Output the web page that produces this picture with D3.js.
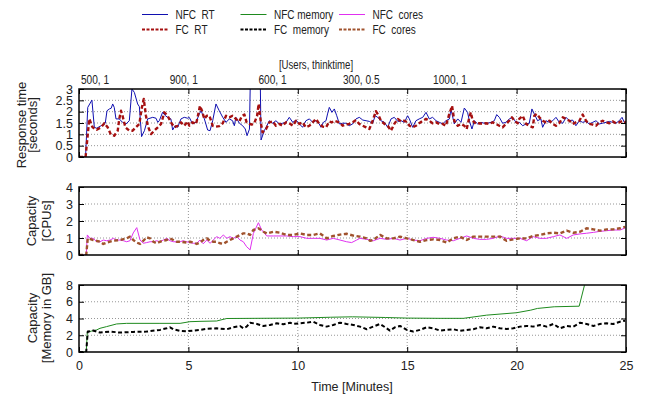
<!DOCTYPE html>
<html><head><meta charset="utf-8">
<script src="https://cdn.jsdelivr.net/npm/d3@7"></script>
<style>
body{margin:0;background:#fff;}
text{font-family:"Liberation Sans",Arial,sans-serif;fill:#222;}
</style></head>
<body>
<script>
// ---------- DATA ----------
const xTicks = [0, 5, 10, 15, 20, 25];
const rtTicks = [0, 0.5, 1, 1.5, 2, 2.5, 3];
const cpuTicks = [0, 1, 2, 3, 4];
const memTicks = [0, 2, 4, 6, 8];
const userLabels = ["500, 1", "900, 1", "600, 1", "300, 0.5", "1000, 1"];
const legendNames = ["NFC  RT", "FC  RT", "NFC memory", "FC  memory", "NFC  cores", "FC  cores"];

// [minute, seconds]
const nfcRT = [[0,0],[0.3,0],[0.4,2.19],[0.59,2.51],[0.70,1.31],[0.81,1.27],[1.01,1.38],[1.20,1.49],[1.28,2.04],[1.39,2.12],[1.47,2.15],[1.54,2.34],[1.61,2.19],[1.69,1.68],[1.84,1.68],[1.99,1.53],[2.15,1.46],[2.30,1.60],[2.42,3.0],[2.53,2.85],[2.68,2.34],[2.76,2.22],[2.86,0.90],[2.99,1.16],[3.14,1.68],[3.37,1.75],[3.52,1.71],[3.60,1.53],[3.67,1.60],[3.82,1.97],[3.95,1.82],[4.05,1.75],[4.20,1.68],[4.28,1.19],[4.39,1.38],[4.51,1.31],[4.66,1.68],[4.81,1.75],[4.97,1.71],
[5.04,1.75],[5.19,1.46],[5.35,1.53],[5.50,1.90],[5.58,2.04],[5.73,1.68],[5.88,1.19],[5.99,1.16],[6.11,1.60],[6.26,2.34],[6.41,2.04],[6.57,1.75],[6.72,1.53],[6.87,1.68],[7.02,1.60],[7.10,1.38],[7.17,1.75],[7.33,1.49],[7.48,1.38],[7.60,1.235],[7.68,0.94],[7.79,1.23],[7.88,6],[8.25,6],[8.32,0.75],[8.47,1.16],[8.55,1.31],[8.70,1.60],[8.85,1.49],[9.00,1.60],[9.16,1.46],[9.31,1.49],[9.46,1.53],[9.61,1.75],[9.77,1.53],[9.92,1.63],[10.07,1.46],
[10.22,1.31],[10.37,1.60],[10.53,1.68],[10.68,1.53],[10.83,1.60],[10.98,1.46],[11.06,1.31],[11.17,1.53],[11.29,1.60],[11.36,1.90],[11.44,2.19],[11.56,1.97],[11.67,2.12],[11.78,1.82],[11.90,1.46],[12.05,1.49],[12.20,1.49],[12.35,1.38],[12.51,1.46],[12.66,1.68],[12.81,1.75],[12.97,1.63],[13.12,1.60],[13.27,1.57],[13.42,1.49],[13.54,1.82],[13.65,1.75],[13.80,1.60],[13.96,1.53],[14.11,1.31],[14.26,1.68],[14.41,1.75],[14.57,1.57],[14.72,1.60],[14.87,1.53],[15.02,1.82],
[15.10,1.68],[15.25,1.31],[15.40,1.60],[15.55,1.68],[15.71,1.75],[15.86,1.97],[16.01,1.68],[16.16,1.75],[16.32,1.60],[16.47,1.53],[16.62,1.46],[16.77,1.60],[16.93,1.68],[17.00,2.12],[17.15,1.46],[17.31,1.68],[17.46,1.53],[17.61,2.16],[17.76,1.97],[17.84,1.60],[17.96,1.235],[18.07,1.60],[18.22,1.46],[18.37,1.53],[18.52,1.49],[18.68,1.49],[18.83,1.53],[18.98,1.60],[19.09,1.87],[19.21,1.75],[19.36,1.49],[19.51,1.53],[19.67,1.68],[19.82,1.75],[19.97,1.53],
[20.12,1.53],[20.28,1.38],[20.43,1.46],[20.58,1.49],[20.70,2.12],[20.81,1.90],[20.96,1.60],[21.11,1.68],[21.19,1.31],[21.34,1.60],[21.50,1.53],[21.65,1.60],[21.80,1.75],[21.95,1.53],[22.11,1.49],[22.26,1.75],[22.41,1.60],[22.56,1.63],[22.71,1.38],[22.87,1.60],[23.02,1.53],[23.17,1.57],[23.32,1.46],[23.48,1.53],[23.63,1.60],[23.78,1.46],[23.93,1.49],[24.09,1.53],[24.24,1.57],[24.39,1.53],[24.54,1.49],[24.69,1.60],[24.82,1.75],[24.92,1.53],[25.0,1.5]];

const fcRT = [[0,0],[0.3,0],[0.47,1.68],[0.62,1.31],[0.81,1.2],[1.01,1.31],[1.16,1.49],[1.31,1.31],[1.46,0.98],[1.61,0.94],[1.77,1.16],[1.84,1.68],[1.92,2.04],[1.99,1.82],[2.12,1.31],[2.30,1.16],[2.45,1.16],[2.60,1.31],[2.76,1.46],[2.86,2.12],[2.96,2.56],[3.06,1.82],[3.14,1.38],[3.29,1.01],[3.44,1.16],[3.60,1.31],[3.75,1.46],[3.90,1.97],[4.05,1.82],[4.20,1.53],[4.36,1.31],[4.51,1.38],[4.66,1.53],[4.81,1.38],[4.97,1.57],
[5.04,1.38],[5.19,1.53],[5.35,1.46],[5.42,1.75],[5.53,2.26],[5.62,2.04],[5.73,1.68],[5.84,1.82],[5.96,1.82],[6.11,1.38],[6.26,1.34],[6.41,1.36],[6.57,1.49],[6.72,1.82],[6.87,1.75],[7.02,1.82],[7.17,1.68],[7.33,1.57],[7.45,1.82],[7.56,1.87],[7.66,1.53],[7.79,1.46],[7.89,1.43],[8.01,1.49],[8.14,1.82],[8.21,2.34],[8.32,1.46],[8.39,1.09],[8.55,1.235],[8.70,1.53],[8.85,1.57],[9.00,1.38],[9.16,1.46],[9.31,1.38],[9.46,1.53],[9.61,1.49],[9.77,1.38],[9.92,1.60],[10.07,1.46],
[10.22,1.53],[10.37,1.31],[10.53,1.38],[10.68,1.53],[10.83,1.68],[10.98,1.46],[11.14,1.34],[11.29,1.31],[11.44,1.57],[11.56,1.53],[11.67,1.60],[11.90,1.53],[12.05,1.38],[12.20,1.43],[12.35,1.46],[12.51,1.53],[12.66,1.63],[12.81,1.46],[12.97,1.38],[13.12,1.31],[13.27,1.235],[13.42,1.60],[13.57,2.02],[13.70,1.82],[13.80,1.60],[13.96,1.46],[14.11,1.38],[14.26,1.16],[14.41,1.46],[14.57,1.68],[14.72,1.57],[14.87,1.60],[15.02,1.53],
[15.10,1.38],[15.25,1.31],[15.40,1.38],[15.55,1.49],[15.71,1.60],[15.86,1.68],[16.01,1.60],[16.16,1.49],[16.32,1.53],[16.47,1.46],[16.62,1.46],[16.77,1.38],[16.90,1.82],[17.05,2.26],[17.15,1.60],[17.31,1.38],[17.46,1.46],[17.61,1.38],[17.72,1.235],[17.84,1.75],[17.91,1.97],[17.99,1.60],[18.14,1.46],[18.30,1.49],[18.45,1.46],[18.60,1.49],[18.75,1.46],[18.91,1.53],[19.06,1.46],[19.21,1.38],[19.36,1.31],[19.51,1.46],[19.67,1.60],[19.79,1.75],[19.90,1.60],[20.05,1.49],
[20.12,1.68],[20.28,1.82],[20.43,1.46],[20.58,1.38],[20.74,1.31],[20.81,1.82],[20.92,1.90],[21.04,1.75],[21.19,1.60],[21.34,1.53],[21.50,1.60],[21.65,1.46],[21.80,1.38],[21.95,1.49],[22.11,1.75],[22.26,1.68],[22.41,1.60],[22.56,1.46],[22.71,1.53],[22.87,1.60],[23.02,1.87],[23.17,1.60],[23.32,1.46],[23.48,1.43],[23.63,1.38],[23.78,1.53],[23.93,1.60],[24.09,1.53],[24.24,1.49],[24.39,1.57],[24.54,1.49],[24.69,1.53],[24.85,1.60],[25.0,1.53]];

// [minute, CPUs]
const nfcCores = [[0,0],[0.33,0],[0.38,1.18],[0.50,0.98],[0.65,0.98],[0.81,0.78],[0.96,0.78],[1.11,0.88],[1.26,0.84],[1.42,0.88],[1.57,0.98],[1.72,0.88],[1.87,0.88],[2.03,0.84],[2.18,0.78],[2.33,0.84],[2.48,1.30],[2.64,1.61],[2.79,0.88],[2.94,0.69],[3.09,0.73],[3.25,0.78],[3.40,0.78],[3.55,0.84],[3.70,0.78],[3.85,0.88],[4.01,0.98],[4.16,0.84],[4.31,0.78],[4.46,0.78],[4.62,0.78],[4.77,0.84],[4.92,0.78],[5.07,0.73],[5.23,0.69],[5.38,0.69],[5.53,0.88],[5.68,0.66],[5.84,0.88],[5.99,0.69],[6.14,0.88],[6.29,1.08],[6.44,0.98],[6.60,1.18],[6.75,0.98],[6.90,1.08],[7.05,0.98],[7.21,1.08],[7.36,0.88],[7.51,0.78],[7.66,0.49],[7.82,0.30],[7.97,1.27],[8.20,1.90],[8.35,1.47],[8.58,1.12],[8.88,1.12],[9.19,1.12],[9.49,1.12],[9.80,1.08],[10.10,1.08],[10.41,0.98],[10.71,0.98],[11.01,0.98],[11.32,0.88],[11.62,0.98],[11.93,0.88],[12.23,0.78],[12.46,0.73],[12.69,0.88],[12.84,0.98],[13.15,0.92],[13.45,0.84],[13.76,0.98],[14.06,0.92],[14.37,0.98],[14.67,0.88],[14.98,0.98],[15.28,0.88],[15.58,0.84],[15.89,0.98],[16.19,1.04],[16.50,0.98],[16.80,0.88],[17.11,0.84],[17.41,0.98],[17.72,1.12],[18.02,0.98],[18.32,0.92],[18.63,0.92],[18.93,0.98],[19.24,1.12],[19.54,0.98],[19.85,0.98],[20.15,0.98],[20.46,0.84],[20.76,1.08],[21.07,0.98],[21.37,0.98],[21.68,1.08],[21.98,1.18],[22.29,0.98],[22.59,1.18],[22.90,1.24],[23.20,1.28],[23.51,1.33],[23.81,1.39],[24.12,1.43],[24.42,1.47],[24.73,1.47],[24.96,1.59]];

const fcCores = [[0,0],[0.33,0],[0.40,0.98],[0.65,0.88],[0.96,0.78],[1.11,0.65],[1.26,0.73],[1.57,0.84],[1.87,0.88],[2.18,0.98],[2.33,1.08],[2.48,0.88],[2.64,0.73],[2.79,0.65],[2.94,0.84],[3.09,1.04],[3.25,0.98],[3.40,0.78],[3.55,0.69],[3.70,0.78],[3.85,0.84],[4.01,0.88],[4.16,0.98],[4.31,0.88],[4.46,0.78],[4.62,0.78],[4.92,0.73],[5.07,0.78],[5.23,0.73],[5.38,0.65],[5.53,0.73],[5.68,0.88],[5.84,0.98],[5.99,0.84],[6.14,0.78],[6.29,0.78],[6.44,0.69],[6.60,0.65],[6.75,0.78],[6.90,0.88],[7.05,0.98],[7.21,1.08],[7.36,1.18],[7.51,1.27],[7.66,1.27],[7.82,1.18],[7.97,1.47],[8.20,1.57],[8.43,1.37],[8.58,1.27],[8.88,1.37],[9.19,1.31],[9.49,1.18],[9.80,1.18],[10.10,1.27],[10.41,1.18],[10.71,1.18],[11.01,1.27],[11.32,0.98],[11.62,1.12],[11.93,1.20],[12.23,1.25],[12.54,1.14],[12.84,1.08],[13.15,0.98],[13.30,0.84],[13.45,0.88],[13.76,1.18],[14.06,0.98],[14.37,0.98],[14.67,1.08],[14.98,0.98],[15.28,0.88],[15.58,0.78],[15.89,0.88],[16.19,0.92],[16.50,0.88],[16.80,0.73],[17.11,0.98],[17.41,1.08],[17.72,0.88],[18.02,1.08],[18.32,1.08],[18.63,1.08],[18.93,1.08],[19.24,1.08],[19.54,0.84],[19.85,0.92],[20.15,0.98],[20.46,0.98],[20.76,1.12],[21.07,1.18],[21.37,1.27],[21.68,1.31],[21.98,1.27],[22.29,1.43],[22.59,1.31],[22.90,1.37],[23.20,1.57],[23.51,1.51],[23.81,1.43],[24.12,1.51],[24.42,1.51],[24.73,1.57],[24.96,1.65]];

// [minute, GB]
const nfcMem = [[0,0],[0.33,0],[0.38,2.36],[0.57,2.50],[0.81,2.64],[0.96,2.83],[1.26,3.03],[1.72,3.35],[2.18,3.42],[3.70,3.42],[4.62,3.42],[5.07,3.62],[5.53,3.66],[6.29,3.70],[6.75,4.00],[8.0,4.02],[10.0,4.05],[11.5,4.15],[12.5,4.20],[14.0,4.12],[15.0,4.05],[16.5,4.02],[17.57,4.02],[18.63,4.40],[20.0,4.69],[20.65,5.00],[20.95,5.20],[21.72,5.40],[22.86,5.47],[23.10,7.95],[23.30,8.60]];

const fcMem = [[0,0],[0.33,0],[0.40,2.44],[0.65,2.56],[0.96,2.32],[1.42,2.44],[1.87,2.32],[2.48,2.40],[3.09,2.44],[3.70,2.64],[4.01,2.83],[4.16,2.95],[4.31,2.72],[4.62,2.52],[4.92,2.48],[5.53,2.64],[5.84,2.76],[6.29,2.83],[6.75,2.72],[7.05,2.95],[7.36,3.10],[7.51,2.83],[7.66,3.03],[7.82,3.50],[8.13,3.35],[8.43,3.11],[8.73,3.23],[9.04,3.43],[9.34,3.31],[9.65,3.50],[9.80,3.35],[10.10,3.43],[10.41,3.50],[10.71,3.62],[11.01,3.23],[11.32,3.03],[11.62,3.23],[11.93,3.50],[12.23,3.35],[12.54,3.23],[12.84,3.03],[13.15,2.72],[13.45,3.03],[13.76,3.35],[14.06,2.83],[14.21,2.56],[14.44,2.95],[14.67,3.11],[14.98,2.64],[15.28,2.44],[15.58,2.64],[15.89,2.95],[16.19,2.83],[16.50,2.56],[16.80,2.64],[17.11,2.72],[17.41,2.52],[17.72,2.64],[18.02,2.72],[18.32,2.95],[18.63,2.83],[18.93,3.03],[19.24,2.83],[19.54,2.76],[19.85,2.83],[20.15,3.03],[20.46,3.11],[20.76,3.03],[21.07,3.23],[21.37,3.03],[21.68,3.35],[21.98,2.83],[22.29,3.11],[22.59,3.03],[22.90,3.50],[23.20,3.35],[23.51,3.11],[23.81,3.35],[24.12,3.43],[24.42,3.35],[24.73,3.62],[24.96,3.74]];

// ---------- DRAW ----------
const W = 647, H = 395;
const svg = d3.select("body").append("svg").attr("width", W).attr("height", H);
const x = d3.scaleLinear().domain([0, 25]).range([79, 626]);

const colors = {nfcRT:"#1010b0", fcRT:"#a51010", nfcMem:"#1e8a1e", fcMem:"#000000", nfcCores:"#e030f0", fcCores:"#a0522d"};

const panels = [
  {top:89, bottom:157, domain:[0,3], ticks:rtTicks, title:["Response time","[seconds]"], tx:[21,32], ty:125,
   series:[{d:nfcRT,c:colors.nfcRT,w:1,dash:null},{d:fcRT,c:colors.fcRT,w:2.4,dash:"4,2.5"}]},
  {top:187, bottom:255, domain:[0,4], ticks:cpuTicks, title:["Capacity","[CPUs]"], tx:[31,46], ty:221,
   series:[{d:nfcCores,c:colors.nfcCores,w:1,dash:null},{d:fcCores,c:colors.fcCores,w:2.4,dash:"4,2.5"}]},
  {top:285, bottom:352, domain:[0,8], ticks:memTicks, title:["Capacity","[Memory in GB]"], tx:[32,46], ty:318,
   series:[{d:nfcMem,c:colors.nfcMem,w:1,dash:null},{d:fcMem,c:colors.fcMem,w:2,dash:"4,2.5"}]}
];

panels.forEach((p, i) => {
  const y = d3.scaleLinear().domain(p.domain).range([p.bottom, p.top]);
  const g = svg.append("g");
  const clipId = "clip" + i;
  svg.append("clipPath").attr("id", clipId).append("rect")
    .attr("x", x(0)).attr("y", p.top).attr("width", x(25) - x(0)).attr("height", p.bottom - p.top);

  // grid
  g.selectAll(".hg").data(p.ticks.slice(1, -1)).join("line")
    .attr("x1", x(0)).attr("x2", x(25)).attr("y1", d => y(d)).attr("y2", d => y(d))
    .attr("stroke", "#8a8a8a").attr("stroke-width", 0.9).attr("stroke-dasharray", "1,2");
  g.selectAll(".vg").data(xTicks.slice(1, -1)).join("line")
    .attr("y1", p.top).attr("y2", p.bottom).attr("x1", d => x(d)).attr("x2", d => x(d))
    .attr("stroke", "#8a8a8a").attr("stroke-width", 0.9).attr("stroke-dasharray", "1,2");

  // series
  const line = d3.line().x(d => x(d[0])).y(d => y(d[1]));
  p.series.forEach(s => {
    g.append("path").datum(s.d).attr("clip-path", `url(#${clipId})`)
      .attr("d", line).attr("fill", "none").attr("stroke", s.c)
      .attr("stroke-width", s.w).attr("stroke-dasharray", s.dash)
      .attr("stroke-linejoin", "round");
  });

  // axes (inward ticks)
  const left = g.append("g").attr("transform", `translate(${x(0)},0)`)
    .call(d3.axisLeft(y).tickValues(p.ticks).tickSizeInner(-5).tickSizeOuter(0).tickPadding(6)
      .tickFormat(d => String(d)));
  const right = g.append("g").attr("transform", `translate(${x(25)},0)`)
    .call(d3.axisRight(y).tickValues(p.ticks).tickSizeInner(-5).tickSizeOuter(0).tickFormat(""));
  const topAx = g.append("g").attr("transform", `translate(0,${p.top})`)
    .call(d3.axisTop(x).tickValues(xTicks).tickSizeInner(-5).tickSizeOuter(0).tickFormat(""));
  const botAx = g.append("g").attr("transform", `translate(0,${p.bottom})`)
    .call(d3.axisBottom(x).tickValues(xTicks).tickSizeInner(-5).tickSizeOuter(0).tickPadding(9)
      .tickFormat(i === 2 ? (d => String(d)) : ""));
  [left, right, topAx, botAx].forEach(a => {
    a.select(".domain").remove();
    a.selectAll("line").attr("stroke", "#000").attr("stroke-width", 1);
    a.selectAll("text").attr("font-size", 12.5).attr("fill", "#222")
      .attr("font-family", '"Liberation Sans",Arial,sans-serif');
  });

  // border
  g.append("rect").attr("x", x(0)).attr("y", p.top).attr("width", x(25) - x(0)).attr("height", p.bottom - p.top)
    .attr("fill", "none").attr("stroke", "#000").attr("stroke-width", 1.5);

  // y titles
  p.title.forEach((t, k) => {
    svg.append("text").attr("transform", `translate(${p.tx[k]},${p.ty}) rotate(-90)`)
      .attr("text-anchor", "middle").attr("dy", "0.35em").attr("font-size", 13).text(t);
  });
});

// x title
svg.append("text").attr("x", 352).attr("y", 391).attr("text-anchor", "middle").attr("font-size", 12.5).text("Time [Minutes]");

// users/thinktime labels (condensed lettering)
svg.append("text").attr("transform", "translate(316,68.5) scale(0.74,1)")
  .attr("text-anchor", "middle").attr("font-size", 13).text("[Users, thinktime]");
const up = d3.scalePoint().domain(userLabels).range([95, 450]);
svg.selectAll(".ul").data(userLabels).join("text")
  .attr("transform", d => `translate(${up(d)},84) scale(0.78,1)`)
  .attr("text-anchor", "middle").attr("font-size", 13).text(d => d);

// legend
const legendItems = [
  {name:legendNames[0], c:colors.nfcRT, w:1, dash:null},
  {name:legendNames[1], c:colors.fcRT, w:2, dash:"3,1.5"},
  {name:legendNames[2], c:colors.nfcMem, w:1, dash:null},
  {name:legendNames[3], c:colors.fcMem, w:2, dash:"3,1.5"},
  {name:legendNames[4], c:colors.nfcCores, w:1, dash:null},
  {name:legendNames[5], c:colors.fcCores, w:2, dash:"3,1.5"}
];
const legCol = d3.scalePoint().domain([0,1,2]).range([142, 339]);
const legRow = d3.scalePoint().domain([0,1]).range([14.5, 29.5]);
const lg = svg.append("g").selectAll("g").data(legendItems).join("g")
  .attr("transform", (d, i) => `translate(${legCol(Math.floor(i / 2))},${legRow(i % 2)})`);
lg.append("line").attr("x1", 0).attr("x2", 26).attr("y1", 0).attr("y2", 0)
  .attr("stroke", d => d.c).attr("stroke-width", d => d.w).attr("stroke-dasharray", d => d.dash);
lg.append("text").attr("transform", "translate(33.5,0) scale(0.8,1)").attr("dy", "0.35em").attr("font-size", 12.5)
  .style("white-space", "pre").text(d => d.name);
</script>
</body></html>
